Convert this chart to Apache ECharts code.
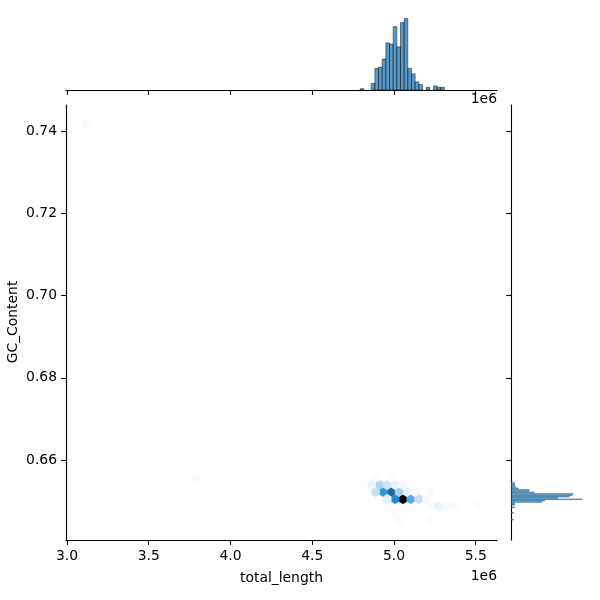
<!DOCTYPE html>
<html><head><meta charset="utf-8">
<script src="https://cdn.jsdelivr.net/npm/echarts@6/dist/echarts.min.js"></script>
<style>html,body{margin:0;padding:0;background:#fff}#c{width:600px;height:600px}</style>
</head><body><div id="c"></div>
<script>
// ---- hexbin grid (data extents and gridsize) ----
const gridXMin = 3.1137e6, gridXMax = 5.5102e6;
const gridYMin = 0.64536, gridYMax = 0.74151;
const gridNX = 50, gridNY = 28;
// hex cells: column / row in half-cell steps from (gridXMin, gridYMin)
const hexCol   = [81, 78, 79, 76, 83, 80, 75, 85, 74, 77, 77, 73, 71, 79, 81, 82, 84, 87, 74, 78, 88, 90, 92, 94, 100, 79, 80, 88, 28, 0, 88];
const hexRow   = [ 3,  4,  3,  4,  3,  4,  5,  3,  4,  5,  3,  5,  5,  5,  5,  4,  4,  3,  6,  6,  2,  2,  2,  2,   2,  1,  0,  0,  6, 56, 4];
const hexCount = [77, 50, 41, 37, 30, 17, 16, 12, 11, 10,  6,  4,  2,  4,  3,  5,  3,  3,  2,  2,  2,  5,  3,  2,   2,  2,  2,  2,  2,  2, 2];
const countMin = 1;

// ---- marginal histograms ----
const topHistBins = 107, topHistFirst = 75;
const topHistCounts = [1, 0, 0, 5, 16, 17, 23, 35, 34, 47, 32, 50, 53, 16, 12, 6, 4, 0, 2, 0, 3, 2, 2];
const rightHistBins = 293, rightHistFirst = 0;
const rightHistCounts = [2, 0, 0, 0, 0, 2, 0, 0, 0, 3, 0, 3, 3, 24, 26, 55, 36, 45, 47, 48, 18, 14, 14, 6, 4, 3, 3, 3, 1];

// ---- ticks ----
const xTicks = [3.0e6, 3.5e6, 4.0e6, 4.5e6, 5.0e6, 5.5e6];
const yTicks = [0.66, 0.68, 0.70, 0.72, 0.74];
const xLabel = 'total_length', yLabel = 'GC_Content';
const baseColor = '#1f77b4';

// derived
const sx = (gridXMax - gridXMin) / gridNX;
const sy = (gridYMax - gridYMin) / gridNY;
const xPad = 0.05 * (gridXMax - gridXMin), yPad = 0.05 * (gridYMax - gridYMin);
const xMin = gridXMin - xPad, xMax = gridXMax + xPad;
const yMin = gridYMin - yPad, yMax = gridYMax + yPad;
const topW = (gridXMax - gridXMin) / topHistBins;
const rightW = (gridYMax - gridYMin) / rightHistBins;

function rgbToHls(r, g, b) {
  const mx = Math.max(r, g, b), mn = Math.min(r, g, b);
  const l = (mx + mn) / 2;
  if (mx === mn) return [0, l, 0];
  const s = l <= 0.5 ? (mx - mn) / (mx + mn) : (mx - mn) / (2 - mx - mn);
  const rc = (mx - r) / (mx - mn), gc = (mx - g) / (mx - mn), bc = (mx - b) / (mx - mn);
  let h;
  if (r === mx) h = bc - gc; else if (g === mx) h = 2 + rc - bc; else h = 4 + gc - rc;
  h = ((h / 6) % 1 + 1) % 1;
  return [h, l, s];
}
function hv(m1, m2, hue) {
  hue = ((hue % 1) + 1) % 1;
  if (hue < 1 / 6) return m1 + (m2 - m1) * hue * 6;
  if (hue < 0.5) return m2;
  if (hue < 2 / 3) return m1 + (m2 - m1) * (2 / 3 - hue) * 6;
  return m1;
}
function hlsToRgb(h, l, s) {
  if (s === 0) return [l, l, l];
  const m2 = l <= 0.5 ? l * (1 + s) : l + s - l * s;
  const m1 = 2 * l - m2;
  return [hv(m1, m2, h + 1 / 3), hv(m1, m2, h), hv(m1, m2, h - 1 / 3)];
}
const bc = [1, 3, 5].map(i => parseInt(baseColor.substr(i, 2), 16) / 255);
const [bh, , bs] = rgbToHls(bc[0], bc[1], bc[2]);
const stops = [];
for (let k = 0; k < 12; k++) stops.push(hlsToRgb(bh, 1 - k / 11, bs).map(v => Math.min(1, Math.max(0, v))));
function cmap(t) {
  t = Math.max(0, Math.min(1, t));
  const p = t * 11, k = Math.min(10, Math.floor(p)), f = p - k;
  const c = stops[k].map((v, i) => v + (stops[k + 1][i] - v) * f);
  return 'rgb(' + c.map(v => Math.round(v * 255)).join(',') + ')';
}
const countMax = Math.max(...hexCount);

const hexData = hexCol.map((c, i) => [gridXMin + c * sx / 2, gridYMin + hexRow[i] * sy / 2, hexCount[i]]);
const hexOff = [[.5, -.5], [.5, .5], [0, 1], [-.5, .5], [-.5, -.5], [0, -1]];

const topData = [];
topHistCounts.forEach((c, i) => { if (c > 0) { const k = topHistFirst + i; topData.push([gridXMin + k * topW, gridXMin + (k + 1) * topW, c]); } });
const rightData = [];
rightHistCounts.forEach((c, i) => { if (c > 0) { const k = rightHistFirst + i; rightData.push([gridYMin + k * rightW, gridYMin + (k + 1) * rightW, c]); } });
const topMax = Math.max(...topHistCounts) * 1.05;
const rightMax = Math.max(...rightHistCounts) * 1.05;

const FONT = 'DejaVu Sans';
const FS = 13.9;
const FONTSTR = FS + 'px "' + FONT + '"';
const lineS = { color: '#000', width: 1.1 };
const tickS = { show: true, inside: false, length: 4.9, lineStyle: { color: '#000', width: 1.1 } };

const chart = echarts.init(document.getElementById('c'), null, { renderer: 'canvas' });
chart.setOption({
  animation: false,
  backgroundColor: '#fff',
  grid: [
    { left: 66, top: 105, width: 431, height: 435, outerBoundsMode: 'none', containLabel: false },
    { left: 66, top: 15, width: 431, height: 75, outerBoundsMode: 'none', containLabel: false },
    { left: 511, top: 105, width: 75, height: 435, outerBoundsMode: 'none', containLabel: false }
  ],
  xAxis: [
    { gridIndex: 0, type: 'value', min: xMin, max: xMax,
      axisLine: { show: true, onZero: false, lineStyle: lineS },
      axisTick: Object.assign({ customValues: xTicks }, tickS),
      axisLabel: { customValues: xTicks, formatter: v => (v / 1e6).toFixed(1), margin: 9, fontSize: FS, color: '#000', fontFamily: FONT },
      splitLine: { show: false },
      name: xLabel, nameLocation: 'middle', nameGap: 31,
      nameTextStyle: { fontSize: FS, color: '#000', fontFamily: FONT } },
    { gridIndex: 1, type: 'value', min: xMin, max: xMax,
      axisLine: { show: true, onZero: false, lineStyle: lineS },
      axisTick: Object.assign({ customValues: xTicks }, tickS),
      axisLabel: { show: false }, splitLine: { show: false } },
    { gridIndex: 2, type: 'value', min: 0, max: rightMax, show: false }
  ],
  yAxis: [
    { gridIndex: 0, type: 'value', min: yMin, max: yMax,
      axisLine: { show: true, onZero: false, lineStyle: lineS },
      axisTick: Object.assign({ customValues: yTicks }, tickS),
      axisLabel: { customValues: yTicks, formatter: v => v.toFixed(2), margin: 9, fontSize: FS, color: '#000', fontFamily: FONT },
      splitLine: { show: false } },
    { gridIndex: 1, type: 'value', min: 0, max: topMax, show: false },
    { gridIndex: 2, type: 'value', min: yMin, max: yMax,
      axisLine: { show: true, onZero: false, lineStyle: lineS },
      axisTick: Object.assign({ customValues: yTicks }, tickS),
      axisLabel: { show: false }, splitLine: { show: false } }
  ],
  graphic: [
    { type: 'text', x: 13, y: 322, rotation: Math.PI / 2,
      style: { text: yLabel, font: FONTSTR, fill: '#000', textAlign: 'center', textVerticalAlign: 'middle' } },
    { type: 'text', right: 103, top: 92, style: { text: '1e6', font: FONTSTR, fill: '#000' } },
    { type: 'text', right: 103, top: 569, style: { text: '1e6', font: FONTSTR, fill: '#000' } }
  ],
  series: [
    { type: 'custom', xAxisIndex: 0, yAxisIndex: 0, data: hexData, silent: true, clip: true,
      renderItem: (params, api) => {
        const cx = api.value(0), cy = api.value(1), n = api.value(2);
        const col = cmap((n - countMin) / (countMax - countMin));
        const pts = hexOff.map(o => api.coord([cx + o[0] * sx, cy + o[1] * sy / 3]));
        return { type: 'polygon', shape: { points: pts }, style: { fill: col, stroke: col, lineWidth: 0.6 } };
      } },
    { type: 'custom', xAxisIndex: 1, yAxisIndex: 1, data: topData, silent: true,
      renderItem: (params, api) => {
        const p0 = api.coord([api.value(0), 0]), p1 = api.coord([api.value(1), api.value(2)]);
        return { type: 'rect', shape: { x: p0[0], y: p1[1], width: p1[0] - p0[0], height: p0[1] - p1[1] },
          style: { fill: 'rgba(31,119,180,0.75)', stroke: 'rgba(0,0,0,0.75)', lineWidth: 0.6 } };
      } },
    { type: 'custom', xAxisIndex: 2, yAxisIndex: 2, data: rightData, silent: true,
      renderItem: (params, api) => {
        const p0 = api.coord([0, api.value(0)]), p1 = api.coord([api.value(2), api.value(1)]);
        return { type: 'rect', shape: { x: p0[0], y: p1[1], width: p1[0] - p0[0], height: p0[1] - p1[1] },
          style: { fill: 'rgba(31,119,180,0.75)', stroke: 'rgba(0,0,0,0.3)', lineWidth: 0.3 } };
      } }
  ]
});
</script></body></html>
